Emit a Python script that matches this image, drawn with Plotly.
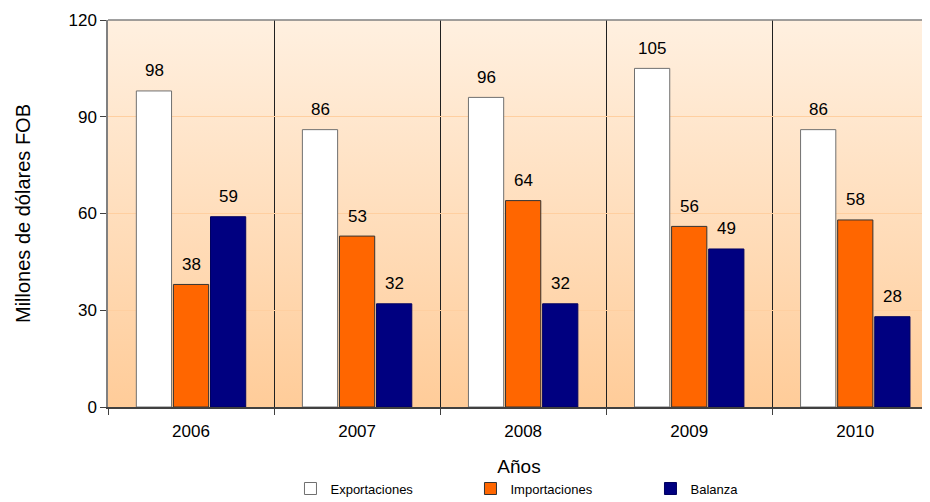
import plotly.graph_objects as go

# datos
anios = ["2006", "2007", "2008", "2009", "2010"]
exportaciones = [98, 86, 96, 105, 86]
importaciones = [38, 53, 64, 56, 58]
balanza = [59, 32, 32, 49, 28]

FONT = "Liberation Sans, Arial, sans-serif"

# fondo degradado (blanco-durazno arriba, naranja claro abajo)
svg = (
    "data:image/svg+xml;utf8,"
    "<svg xmlns='http://www.w3.org/2000/svg' width='10' height='100' preserveAspectRatio='none'>"
    "<defs><linearGradient id='g' x1='0' y1='0' x2='0' y2='1'>"
    "<stop offset='0' stop-color='%23FFF0E0'/>"
    "<stop offset='1' stop-color='%23FFCC99'/>"
    "</linearGradient></defs>"
    "<rect width='10' height='100' fill='url(%23g)'/></svg>"
)

series = [
    ("Exportaciones", exportaciones, "#FFFFFF", "#707070"),
    ("Importaciones", importaciones, "#FF6600", "#333333"),
    ("Balanza", balanza, "#000080", "#000060"),
]

fig = go.Figure()
for nombre, valores, color, borde in series:
    fig.add_trace(go.Bar(
        x=anios, y=valores, name=nombre,
        marker=dict(color=color, line=dict(color=borde, width=1)),
    ))

# etiquetas de valores un poco separadas de la barra
desplaz = [-37, 0, 37]
for (nombre, valores, _, _), dx in zip(series, desplaz):
    for i, v in enumerate(valores):
        fig.add_annotation(
            x=i, y=v, text=str(v), showarrow=False,
            xshift=dx, yshift=20, font=dict(size=17, color="#000000"),
        )

fig.add_layout_image(
    source=svg, xref="paper", yref="paper", x=0, y=1,
    sizex=1, sizey=1, sizing="stretch", xanchor="left", yanchor="top",
    layer="below",
)
# linea superior del area
fig.add_shape(type="line", xref="paper", yref="paper", x0=0, x1=1, y0=1, y1=1,
              line=dict(color="#808080", width=1.5))

# la pagina deja 8 px de margen en el body
fig.update_layout(
    width=922, height=494,
    margin=dict(l=100, r=0, t=12, b=95, autoexpand=False),
    paper_bgcolor="white",
    plot_bgcolor="rgba(0,0,0,0)",
    barmode="group", bargap=0.33, bargroupgap=0.05,
    font=dict(family=FONT, color="#000000"),
    showlegend=True,
    legend=dict(
        orientation="h", x=0.222, xanchor="left", y=-0.172, yanchor="top",
        font=dict(size=13), entrywidth=135, entrywidthmode="pixels",
        itemwidth=30, tracegroupgap=0,
        bgcolor="rgba(0,0,0,0)",
    ),
    xaxis=dict(
        type="category", range=[-0.5, 4.45], automargin=False,
        tickson="boundaries", showgrid=True, gridcolor="#202020", gridwidth=1,
        ticks="outside", ticklen=6, tickcolor="#404040",
        showline=True, linecolor="#404040", linewidth=2,
        tickfont=dict(size=17), ticklabelstandoff=8,
        title=dict(text="Años", font=dict(size=19), standoff=19),
    ),
    yaxis=dict(
        range=[0, 120], tickvals=[0, 30, 60, 90, 120], automargin=False,
        showgrid=True, gridcolor="#FFCFA0", gridwidth=1, zeroline=False,
        ticks="outside", ticklen=6, tickcolor="#404040",
        showline=True, linecolor="#808080", linewidth=1.5,
        tickfont=dict(size=17),
        title=dict(text="Millones de dólares FOB", font=dict(size=20), standoff=32),
    ),
)

fig.write_html("out.html")
